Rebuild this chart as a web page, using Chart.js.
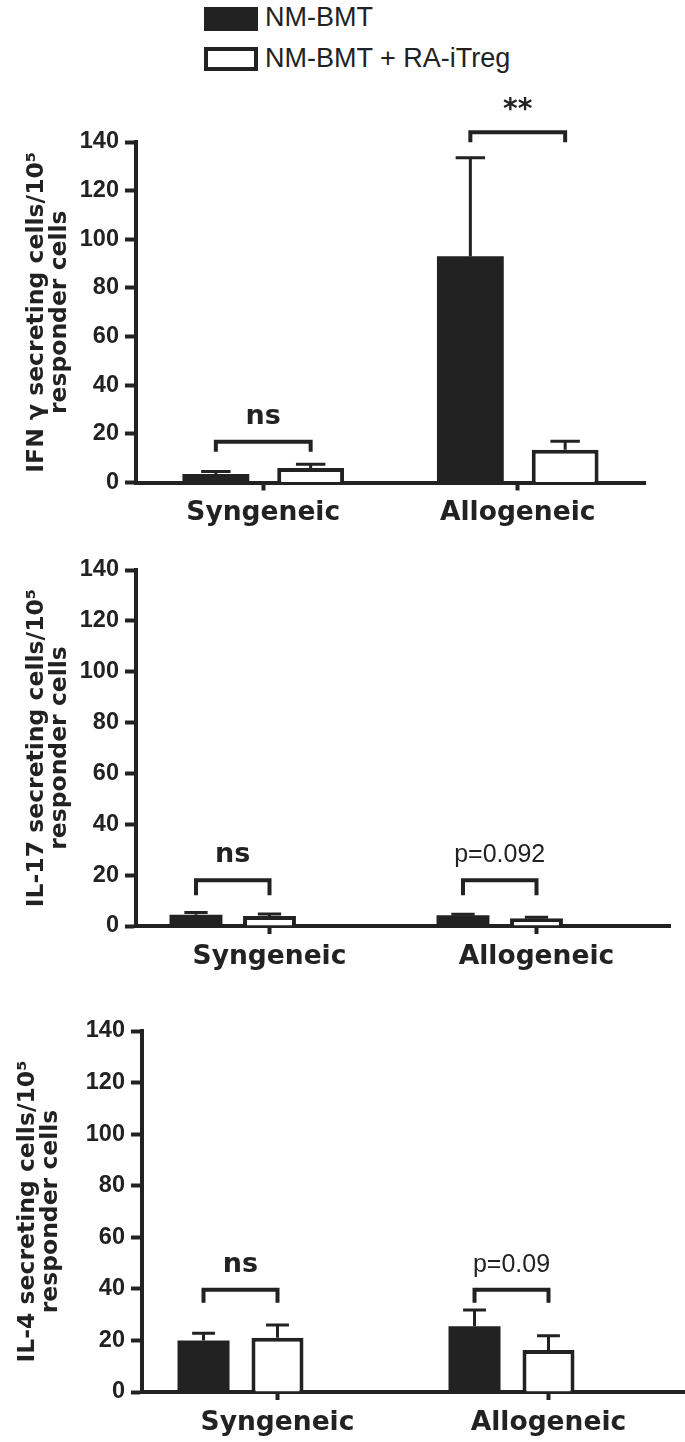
<!DOCTYPE html>
<html>
<head>
<meta charset="utf-8">
<script src="https://cdn.jsdelivr.net/npm/chart.js@4.4.1/dist/chart.umd.min.js"></script>
<style>
  body { margin: 0; background: #fff; width: 685px; height: 1442px; position: relative; overflow: hidden; }
  .legend-box { position: absolute; left: 204px; width: 54px; height: 24px; box-sizing: border-box; border: 4px solid #222; }
  .legend-label { position: absolute; left: 265px; font: 27px/27px Arial, "Liberation Sans", sans-serif; color: #222; white-space: nowrap; }
  canvas { position: absolute; left: 0; }
</style>
</head>
<body>
<div class="legend-box" style="top:7px;background:#222"></div>
<div class="legend-label" id="legend-0" style="top:4px"></div>
<div class="legend-box" style="top:47px;background:#fff"></div>
<div class="legend-label" id="legend-1" style="top:45px"></div>

<canvas id="ifng-chart" width="685" height="455" style="top:75px"></canvas>
<canvas id="il17-chart" width="685" height="460" style="top:530px"></canvas>
<canvas id="il4-chart" width="685" height="452" style="top:990px"></canvas>

<script>
const categories = ['Syngeneic', 'Allogeneic'];
const seriesNames = ['NM-BMT', 'NM-BMT + RA-iTreg'];
const yTicks = [0, 20, 40, 60, 80, 100, 120, 140];

// IFN gamma
const ifngControl = [3.5, 93];
const ifngControlErr = [1, 40.5];
const ifngTreg = [6, 13.5];
const ifngTregErr = [1.5, 3.5];
const ifngSig = ['ns', '**'];
const ifngBracket = [16.8, 144];

// IL-17
const il17Control = [4.4, 4.2];
const il17ControlErr = [0.9, 0.4];
const il17Treg = [3.9, 3.0];
const il17TregErr = [0.8, 0.4];
const il17Sig = ['ns', 'p=0.092'];
const il17Bracket = [18, 18];

// IL-4
const il4Control = [20, 25.5];
const il4ControlErr = [2.8, 6.3];
const il4Treg = [21, 16.3];
const il4TregErr = [5, 5.5];
const il4Sig = ['ns', 'p=0.09'];
const il4Bracket = [39.7, 39.7];

const INK = '#222';
const BOLD_FONT = '"DejaVu Sans", sans-serif';
const PLAIN_FONT = 'Arial, "Liberation Sans", sans-serif';

document.getElementById('legend-0').textContent = seriesNames[0];
document.getElementById('legend-1').textContent = seriesNames[1];

// error bars (upper only) + significance brackets
function annotationPlugin(errors, sigLabels, bracketValues, legPx) {
  return {
    id: 'annotations',
    afterDatasetsDraw(chart) {
      const ctx = chart.ctx;
      const yScale = chart.scales.y;
      ctx.save();
      ctx.strokeStyle = INK;
      ctx.fillStyle = INK;
      ctx.lineWidth = 3;

      errors.forEach((errs, di) => {
        const values = chart.data.datasets[di].data;
        chart.getDatasetMeta(di).data.forEach((bar, i) => {
          const top = yScale.getPixelForValue(values[i] + errs[i]);
          const half = bar.width * 0.22;
          ctx.beginPath();
          ctx.moveTo(bar.x, bar.y);
          ctx.lineTo(bar.x, top);
          ctx.moveTo(bar.x - half, top);
          ctx.lineTo(bar.x + half, top);
          ctx.stroke();
        });
      });

      const left = chart.getDatasetMeta(0).data;
      const right = chart.getDatasetMeta(1).data;
      ctx.lineWidth = 4;
      sigLabels.forEach((label, i) => {
        const yTop = yScale.getPixelForValue(bracketValues[i]);
        ctx.beginPath();
        ctx.moveTo(left[i].x, yTop + legPx);
        ctx.lineTo(left[i].x, yTop);
        ctx.lineTo(right[i].x, yTop);
        ctx.lineTo(right[i].x, yTop + legPx);
        ctx.stroke();

        const isP = label.startsWith('p');
        ctx.font = isP ? `25px ${PLAIN_FONT}` : `bold ${label === '**' ? 28 : 27}px ${BOLD_FONT}`;
        ctx.textAlign = 'center';
        ctx.textBaseline = 'middle';
        ctx.fillText(label, (left[i].x + right[i].x) / 2, yTop - (label === '**' ? 22 : 25));
      });
      ctx.restore();
    }
  };
}

function buildChart(canvasId, cfg) {
  const datasets = [
    { label: seriesNames[0], data: cfg.control, backgroundColor: INK, borderWidth: 0 },
    { label: seriesNames[1], data: cfg.treg, backgroundColor: '#fff', borderColor: INK, borderWidth: 4 }
  ];
  // empty third column slot, keeps the pair left of the tick like the original
  if (cfg.spacer) {
    datasets.push({ label: '', data: categories.map(() => null) });
  }
  datasets.forEach(d => {
    d.categoryPercentage = cfg.catPct;
    d.barPercentage = cfg.barPct;
  });

  return new Chart(document.getElementById(canvasId), {
    type: 'bar',
    data: { labels: categories, datasets: datasets },
    options: {
      responsive: false,
      animation: false,
      layout: { padding: { top: cfg.padTop, right: cfg.padRight, left: 0, bottom: 0 } },
      plugins: { legend: { display: false }, tooltip: { enabled: false } },
      scales: {
        x: {
          grid: { drawOnChartArea: false, offset: false, tickLength: 8, tickWidth: 4, tickColor: INK },
          border: { color: INK, width: 4 },
          ticks: { color: INK, padding: 7, font: { family: BOLD_FONT, weight: 'bold', size: 26.5 } },
          afterFit: scale => { scale.height = cfg.xHeight; }
        },
        y: {
          min: yTicks[0],
          max: yTicks[yTicks.length - 1],
          afterBuildTicks: scale => { scale.ticks = yTicks.map(v => ({ value: v })); },
          grid: { drawOnChartArea: false, tickLength: 11, tickWidth: 4, tickColor: INK },
          border: { color: INK, width: 4 },
          ticks: { color: INK, padding: 6, font: { family: PLAIN_FONT, weight: 'bold', size: 23.5 } },
          title: {
            display: true,
            text: cfg.title,
            color: INK,
            font: { family: BOLD_FONT, weight: 'bold', size: 23.5, lineHeight: 0.98 },
            padding: { top: cfg.titlePad, bottom: 0 }
          },
          afterFit: scale => { scale.width = cfg.yWidth; }
        }
      }
    },
    plugins: [annotationPlugin(cfg.errors, cfg.sig, cfg.bracket, cfg.legPx)]
  });
}

buildChart('ifng-chart', {
  control: ifngControl, treg: ifngTreg, errors: [ifngControlErr, ifngTregErr],
  sig: ifngSig, bracket: ifngBracket, legPx: 10,
  title: ['IFN \u03b3 secreting cells/10\u2075', 'responder cells'],
  spacer: false, catPct: 0.745, barPct: 0.705,
  padTop: 67, padRight: 40, xHeight: 47.5, yWidth: 136, titlePad: 25
});

buildChart('il17-chart', {
  control: il17Control, treg: il17Treg, errors: [il17ControlErr, il17TregErr],
  sig: il17Sig, bracket: il17Bracket, legPx: 15,
  title: ['IL-17 secreting cells/10\u2075', 'responder cells'],
  spacer: true, catPct: 0.826, barPct: 0.72,
  padTop: 40, padRight: 15, xHeight: 64, yWidth: 136, titlePad: 25
});

buildChart('il4-chart', {
  control: il4Control, treg: il4Treg, errors: [il4ControlErr, il4TregErr],
  sig: il4Sig, bracket: il4Bracket, legPx: 13,
  title: ['IL-4 secreting cells/10\u2075', 'responder cells'],
  spacer: true, catPct: 0.819, barPct: 0.703,
  padTop: 41, padRight: 1, xHeight: 50, yWidth: 142, titlePad: 16
});
</script>
</body>
</html>
